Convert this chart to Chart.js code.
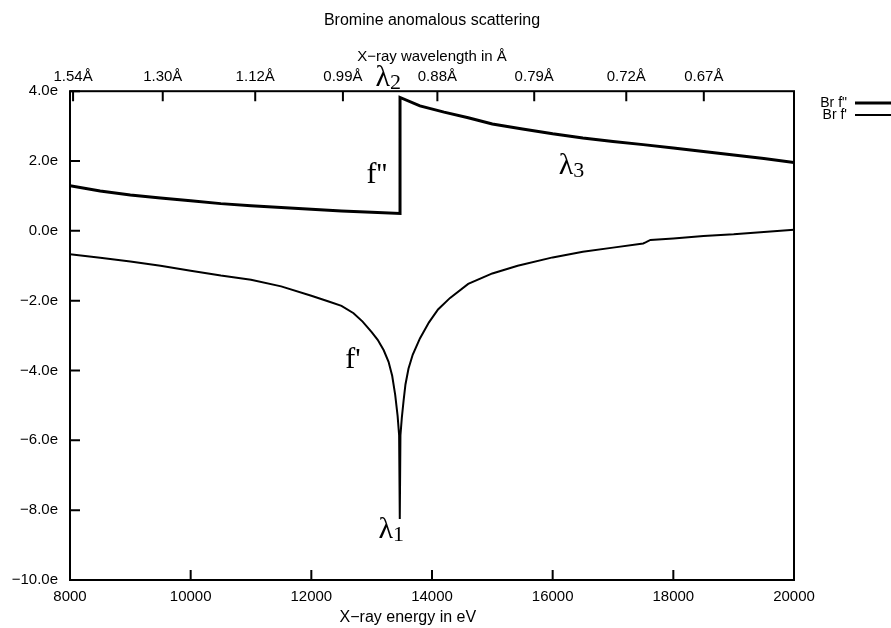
<!DOCTYPE html>
<html>
<head>
<meta charset="utf-8">
<title>Bromine anomalous scattering</title>
<script src="https://cdn.jsdelivr.net/npm/chart.js@4.4.0/dist/chart.umd.min.js"></script>
<style>
  html, body { margin: 0; padding: 0; background: #fff; }
  #wrap { width: 891px; height: 628px; }
</style>
</head>
<body>
<div id="wrap"><canvas id="chart" width="891" height="628"></canvas></div>
<script>
// f'' (absorptive part), electrons vs photon energy in eV
const energyFpp = [8000, 8500, 9000, 9500, 10000, 10500, 11000, 11500, 12000, 12500, 13000, 13470,
                   13470, 13800, 14200, 14600, 15000, 15500, 16000, 16500, 17000, 17500, 18000, 18500, 19000, 19500, 20000];
const fpp = [1.29, 1.14, 1.03, 0.94, 0.86, 0.78, 0.72, 0.67, 0.62, 0.57, 0.53, 0.50,
             3.82, 3.58, 3.40, 3.24, 3.06, 2.92, 2.78, 2.66, 2.56, 2.47, 2.37, 2.27, 2.17, 2.07, 1.96];

// f' (dispersive part)
const energyFp = [8000, 8500, 9000, 9500, 10000, 10500, 11000, 11500, 12000, 12300, 12500, 12700, 12850,
                  13000, 13100, 13200, 13280, 13340, 13390, 13430, 13455, 13466, 13477, 13500, 13530, 13560,
                  13610, 13680, 13800, 13950, 14100, 14300, 14600, 15000, 15420, 16000, 16500, 17000, 17500,
                  17540, 17620, 18000, 18500, 19000, 19500, 20000];
const fp = [-0.67, -0.77, -0.88, -1.00, -1.14, -1.28, -1.40, -1.59, -1.86, -2.03, -2.15, -2.36, -2.60,
            -2.90, -3.12, -3.42, -3.75, -4.15, -4.70, -5.30, -5.85, -8.25, -5.85, -5.35, -4.85, -4.40,
            -3.95, -3.55, -3.08, -2.62, -2.25, -1.92, -1.52, -1.22, -1.00, -0.76, -0.60, -0.48, -0.36,
            -0.33, -0.26, -0.22, -0.15, -0.10, -0.03, 0.03];

// top axis marks, wavelength in Angstrom
const wavelengths = [1.54, 1.30, 1.12, 0.99, 0.88, 0.79, 0.72, 0.67];
const HC = 12398.4; // eV * Angstrom

const SANS = "'Liberation Sans', Arial, sans-serif";
const SERIF = "'Liberation Serif', 'Times New Roman', serif";

const pts = (xs, ys) => xs.map((x, i) => ({ x: x, y: ys[i] }));

// labels placed in data coordinates (energy, electrons)
const notes = [
  { main: "\u03bb", sub: "2", e: 13062, v: 4.14 },
  { main: "f''", sub: "", e: 12913, v: 1.37 },
  { main: "\u03bb", sub: "3", e: 16100, v: 1.62 },
  { main: "f'", sub: "", e: 12564, v: -3.93 },
  { main: "\u03bb", sub: "1", e: 13112, v: -8.8 }
];

// box frame, inward tick marks, labels and the key
const framePlugin = {
  id: "frame",
  afterDraw(chart) {
    const ctx = chart.ctx;
    const a = chart.chartArea;
    const sx = chart.scales.x, sx2 = chart.scales.x2, sy = chart.scales.y;
    const len = 10;
    ctx.save();
    ctx.strokeStyle = "#000";
    ctx.lineWidth = 2;
    ctx.strokeRect(a.left, a.top, a.right - a.left, a.bottom - a.top);
    ctx.beginPath();
    sx.ticks.forEach(t => {
      const p = sx.getPixelForValue(t.value);
      ctx.moveTo(p, a.bottom); ctx.lineTo(p, a.bottom - len);
    });
    sx2.ticks.forEach(t => {
      const p = sx2.getPixelForValue(t.value);
      ctx.moveTo(p, a.top); ctx.lineTo(p, a.top + len);
    });
    sy.ticks.forEach(t => {
      const p = sy.getPixelForValue(t.value);
      ctx.moveTo(a.left, p); ctx.lineTo(a.left + len, p);
    });
    ctx.stroke();

    ctx.fillStyle = "#000";

    // x axis caption sits a little left of centre
    ctx.font = "16px " + SANS;
    ctx.textAlign = "center";
    ctx.textBaseline = "middle";
    ctx.fillText("X\u2212ray energy in eV", sx.getPixelForValue(13600), 618);

    // curve labels
    ctx.textAlign = "left";
    ctx.textBaseline = "alphabetic";
    notes.forEach(n => {
      const x = sx.getPixelForValue(n.e);
      const y = sy.getPixelForValue(n.v);
      ctx.font = "30px " + SERIF;
      ctx.fillText(n.main, x, y);
      if (n.sub) {
        const w = ctx.measureText(n.main).width;
        ctx.font = "22px " + SERIF;
        ctx.fillText(n.sub, x + w, y + 3);
      }
    });

    // key
    const keys = [
      { text: "Br f\"", width: 3, y: 103 },
      { text: "Br f'", width: 2, y: 115 }
    ];
    ctx.font = "14px " + SANS;
    ctx.textAlign = "right";
    ctx.textBaseline = "middle";
    keys.forEach(k => {
      ctx.fillText(k.text, 847, k.y);
      ctx.lineWidth = k.width;
      ctx.beginPath();
      ctx.moveTo(855, k.y);
      ctx.lineTo(chart.width, k.y);
      ctx.stroke();
    });
    ctx.restore();
  }
};

const tickFont = { family: SANS, size: 15 };

new Chart(document.getElementById("chart"), {
  type: "line",
  data: {
    datasets: [
      {
        label: "Br f\"",
        data: pts(energyFpp, fpp),
        borderColor: "#000",
        borderWidth: 3,
        pointRadius: 0,
        tension: 0,
        xAxisID: "x",
        yAxisID: "y"
      },
      {
        label: "Br f'",
        data: pts(energyFp, fp),
        borderColor: "#000",
        borderWidth: 2,
        pointRadius: 0,
        tension: 0,
        xAxisID: "x",
        yAxisID: "y"
      }
    ]
  },
  options: {
    responsive: false,
    animation: false,
    layout: { padding: { left: 0, right: 97, top: 0, bottom: 0 } },
    plugins: {
      legend: { display: false },
      tooltip: { enabled: false },
      title: {
        display: true,
        fullSize: false,
        text: "Bromine anomalous scattering",
        color: "#000",
        font: { family: SANS, size: 16, weight: "normal" },
        padding: { top: 11, bottom: 0 }
      }
    },
    scales: {
      x: {
        type: "linear",
        position: "bottom",
        min: 8000,
        max: 20000,
        grid: { display: false, drawTicks: false },
        border: { display: false },
        ticks: { stepSize: 2000, color: "#000", font: tickFont, padding: 8, maxRotation: 0,
                 callback: v => String(v) },
        afterFit(s) { s.height = 48; }
      },
      x2: {
        type: "linear",
        position: "top",
        min: 8000,
        max: 20000,
        grid: { display: false, drawTicks: false },
        border: { display: false },
        afterBuildTicks(s) { s.ticks = wavelengths.map(w => ({ value: HC / w })); },
        ticks: { autoSkip: false, maxRotation: 0, color: "#000", font: tickFont, padding: 5,
                 callback: (v, i) => wavelengths[i].toFixed(2) + "\u00c5" },
        title: { display: true, text: "X\u2212ray wavelength in \u00c5", color: "#000", font: tickFont,
                 padding: { top: 18, bottom: 0 } },
        afterFit(s) { s.height = 61; }
      },
      y: {
        type: "linear",
        position: "left",
        min: -10,
        max: 4,
        grid: { display: false, drawTicks: false },
        border: { display: false },
        ticks: { stepSize: 2, color: "#000", font: tickFont, padding: 12,
                 callback: v => (v < 0 ? "\u2212" : "") + Math.abs(v).toFixed(1) + "e" },
        afterFit(s) { s.width = 70; }
      }
    }
  },
  plugins: [framePlugin]
});
</script>
</body>
</html>
